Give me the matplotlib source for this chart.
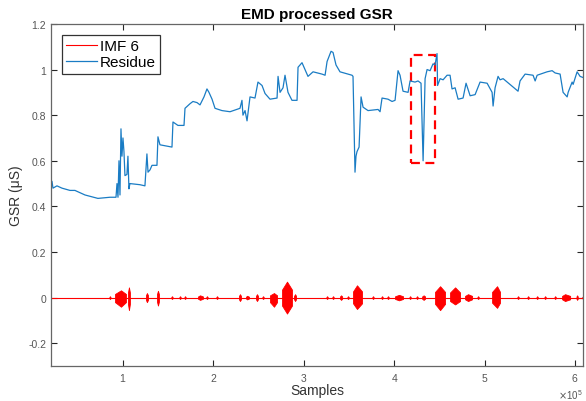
import numpy as np
import matplotlib
matplotlib.use("Agg")
import matplotlib.pyplot as plt
from matplotlib.patches import Rectangle
from matplotlib.ticker import FuncFormatter

plt.rcParams['font.family'] = ['Liberation Sans', 'DejaVu Sans']

# Residue trace, sample index in units of 1e5 and GSR in uS
residue_x = [
    0.204, 0.215, 0.226, 0.270, 0.325, 0.414, 0.469, 0.580, 0.723, 0.856,
    0.923, 0.934, 0.945, 0.956, 0.967, 0.978, 0.989, 1.000, 1.011, 1.022,
    1.044, 1.055, 1.066, 1.077, 1.188, 1.243, 1.265, 1.277, 1.299, 1.321,
    1.376, 1.387, 1.409, 1.542, 1.553, 1.608, 1.675, 1.686, 1.741, 1.774,
    1.819, 1.852, 1.896, 1.929, 1.951, 1.985, 2.018, 2.095, 2.184, 2.294,
    2.316, 2.327, 2.350, 2.372, 2.405, 2.460, 2.493, 2.538, 2.571, 2.626,
    2.704, 2.715, 2.737, 2.770, 2.792, 2.825, 2.869, 2.925, 2.936, 2.980,
    3.046, 3.102, 3.201, 3.235, 3.257, 3.301, 3.323, 3.356, 3.400, 3.533,
    3.544, 3.566, 3.577, 3.588, 3.611, 3.633, 3.655, 3.710, 3.821, 3.843,
    3.865, 3.931, 3.976, 4.009, 4.042, 4.064, 4.097, 4.153, 4.175, 4.230,
    4.263, 4.296, 4.319, 4.341, 4.363, 4.396, 4.429, 4.451, 4.473, 4.479,
    4.507, 4.540, 4.584, 4.617, 4.639, 4.673, 4.706, 4.761, 4.794, 4.839,
    4.894, 4.949, 5.027, 5.082, 5.093, 5.115, 5.148, 5.170, 5.204, 5.369,
    5.391, 5.447, 5.535, 5.558, 5.580, 5.690, 5.746, 5.779, 5.834, 5.867,
    5.912, 5.923, 5.967, 5.978, 6.022, 6.055, 6.088,
]
residue_y = [
    0.47, 0.51, 0.48, 0.49, 0.48, 0.47, 0.47, 0.45, 0.435, 0.44,
    0.44, 0.50, 0.44, 0.60, 0.45, 0.74, 0.62, 0.70, 0.64, 0.535,
    0.54, 0.62, 0.477, 0.50, 0.495, 0.49, 0.63, 0.55, 0.56, 0.58,
    0.58, 0.705, 0.67, 0.66, 0.77, 0.755, 0.755, 0.83, 0.85, 0.86,
    0.855, 0.845, 0.88, 0.915, 0.90, 0.87, 0.83, 0.82, 0.815, 0.83,
    0.865, 0.80, 0.82, 0.775, 0.88, 0.875, 0.945, 0.93, 0.895, 0.87,
    0.875, 0.97, 0.90, 0.92, 0.975, 0.90, 0.865, 0.865, 1.01, 1.03,
    0.97, 0.99, 0.98, 0.975, 1.035, 1.08, 1.075, 1.02, 0.99, 0.975,
    0.97, 0.55, 0.62, 0.64, 0.66, 0.88, 0.835, 0.82, 0.825, 0.815,
    0.875, 0.87, 0.86, 0.865, 0.995, 0.975, 0.905, 0.90, 0.95, 0.945,
    0.95, 0.94, 0.60, 0.96, 1.00, 0.995, 1.025, 1.02, 1.07, 0.93,
    0.96, 0.955, 0.975, 0.975, 0.915, 0.92, 0.87, 0.875, 0.94, 0.885,
    0.89, 0.945, 0.94, 0.90, 0.84, 0.92, 0.97, 0.955, 0.96, 0.905,
    0.95, 0.98, 0.975, 0.95, 0.975, 0.99, 0.995, 0.985, 0.98, 0.90,
    0.88, 0.90, 0.945, 0.935, 0.99, 0.97, 0.965,
]

# IMF 6 bursts: start, peak and end sample (1e5) with upper / lower amplitude
imf_start = [0.850, 0.912, 1.055, 1.254, 1.376, 1.535, 1.624, 1.680, 1.830,
             1.922, 2.033, 2.283, 2.361, 2.471, 2.542, 2.626, 2.759, 2.892,
             3.250, 3.316, 3.400, 3.482, 3.544, 3.758, 3.858, 3.924, 4.009,
             4.168, 4.245, 4.308, 4.451, 4.617, 4.783, 4.920, 5.082, 5.362,
             5.473, 5.573, 5.661, 5.772, 5.856, 6.015, 6.080]
imf_peak = [0.856, 0.978, 1.066, 1.265, 1.387, 1.542, 1.631, 1.686, 1.852,
            1.929, 2.040, 2.294, 2.372, 2.482, 2.549, 2.670, 2.814, 2.903,
            3.257, 3.323, 3.412, 3.489, 3.588, 3.765, 3.865, 3.931, 4.053,
            4.175, 4.252, 4.325, 4.507, 4.673, 4.816, 4.927, 5.137, 5.369,
            5.480, 5.580, 5.668, 5.779, 5.889, 6.022, 6.088]
imf_end = [0.862, 1.033, 1.077, 1.277, 1.398, 1.549, 1.638, 1.693, 1.885,
           1.936, 2.047, 2.305, 2.394, 2.493, 2.556, 2.704, 2.869, 2.914,
           3.264, 3.330, 3.424, 3.496, 3.644, 3.772, 3.872, 3.938, 4.097,
           4.182, 4.259, 4.341, 4.562, 4.728, 4.861, 4.934, 5.170, 5.376,
           5.487, 5.587, 5.675, 5.786, 5.945, 6.029, 6.095]
imf_up = [0.006, 0.032, 0.045, 0.02, 0.03, 0.006, 0.006, 0.006, 0.01,
          0.006, 0.006, 0.015, 0.008, 0.015, 0.006, 0.02, 0.07, 0.015,
          0.006, 0.006, 0.01, 0.006, 0.054, 0.006, 0.006, 0.006, 0.012,
          0.006, 0.006, 0.01, 0.05, 0.045, 0.015, 0.006, 0.05, 0.006,
          0.006, 0.006, 0.006, 0.006, 0.015, 0.01, 0.006]
imf_down = [0.006, 0.04, 0.055, 0.02, 0.035, 0.006, 0.006, 0.006, 0.01,
            0.006, 0.006, 0.015, 0.008, 0.015, 0.006, 0.04, 0.07, 0.015,
            0.006, 0.006, 0.01, 0.006, 0.05, 0.006, 0.006, 0.006, 0.012,
            0.006, 0.006, 0.01, 0.055, 0.03, 0.015, 0.006, 0.045, 0.006,
            0.006, 0.006, 0.006, 0.006, 0.015, 0.01, 0.006]

# highlighted region (samples 1e5, GSR)
box_x = [4.186, 4.451]
box_y = [0.59, 1.065]

blue = '#1a7cc4'
red = '#FF0000'
grey = '#262626'

fig = plt.figure(figsize=(5.86, 4.02), dpi=100)
ax = fig.add_axes([0.087, 0.087, 0.908, 0.851])

scale = 1e5
x_lo, x_hi = residue_x[0] * scale, residue_x[-1] * scale

# IMF 6: flat zero line with oscillation bursts
ax.plot([x_lo, x_hi], [0, 0], color=red, lw=0.8, label='IMF 6')
for s, p, e, u, d in zip(imf_start, imf_peak, imf_end, imf_up, imf_down):
    xs = np.array([s, s, p, e, e]) * scale
    ax.fill_between(xs, [0, 0.5 * u, u, 0.5 * u, 0],
                    [0, -0.5 * d, -d, -0.5 * d, 0], color=red, lw=0.6)

ax.plot(np.array(residue_x) * scale, residue_y, color=blue, lw=0.9,
        label='Residue')

ax.add_patch(Rectangle((box_x[0] * scale, box_y[0]),
                       (box_x[1] - box_x[0]) * scale, box_y[1] - box_y[0],
                       fill=False, edgecolor=red, lw=1.6, ls=(0, (4, 2.5))))

ax.set_xlim(x_lo, x_hi)
ax.set_ylim(-0.3, 1.2)
ax.set_xticks(np.arange(1, 7) * scale)
ax.set_yticks([-0.2, 0, 0.2, 0.4, 0.6, 0.8, 1.0, 1.2])
ax.yaxis.set_major_formatter(FuncFormatter(lambda v, _: '%g' % round(v, 2)))
ax.ticklabel_format(axis='x', style='sci', scilimits=(0, 0), useMathText=True)
ax.xaxis.get_offset_text().set_fontsize(7)
ax.xaxis.get_offset_text().set_color('#555555')

ax.tick_params(direction='in', top=True, right=True, length=4, width=0.8,
               labelsize=7.5, colors=grey, labelcolor='#555555')
for sp in ax.spines.values():
    sp.set_color('#666666')
    sp.set_linewidth(0.9)

ax.set_title('EMD processed GSR', fontsize=11, fontweight='bold', pad=4)
ax.set_xlabel('Samples', fontsize=10, labelpad=0, color='#333333')
ax.set_ylabel('GSR (μS)', fontsize=10, labelpad=4, color='#333333')

leg = ax.legend(loc='upper left', fontsize=11, fancybox=False,
                framealpha=1, edgecolor='#333333', handlelength=2.0,
                borderaxespad=0.7, handletextpad=0.2, borderpad=0.3,
                labelspacing=0.15)
leg.get_frame().set_linewidth(0.9)

fig.savefig('out.png', dpi=100)
